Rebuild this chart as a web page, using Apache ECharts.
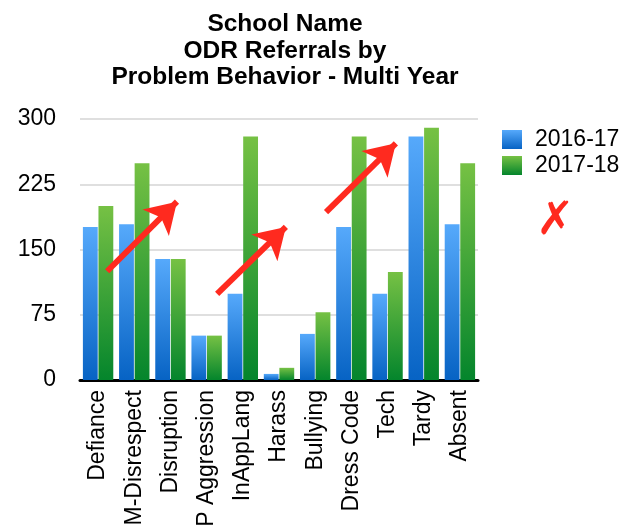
<!DOCTYPE html>
<html>
<head>
<meta charset="utf-8">
<script src="https://cdn.jsdelivr.net/npm/echarts@6/dist/echarts.min.js"></script>
<style>
html,body{margin:0;padding:0;background:#fff;}
#chart{width:638px;height:531px;}
</style>
</head>
<body>
<div id="chart"></div>
<script>
const categories = ['Defiance','M-Disrespect','Disruption','P Aggression','InAppLang','Harass','Bullying','Dress Code','Tech','Tardy','Absent'];
const seriesNames = ['2016-17','2017-18'];
const values1617 = [176, 179, 139, 51, 99, 7, 53, 176, 99, 280, 179];
const values1718 = [200, 249, 139, 51, 280, 14, 78, 280, 124, 290, 249];
const yTicks = [0, 75, 150, 225, 300];
// annotation arrows in data space: [categoryPosition, value] start -> end
const arrows = [
  [[0.75, 125], [2.68, 205]],
  [[3.79, 99], [5.69, 176]],
  [[6.80, 193], [8.73, 272]]
];

const FONT = 'Liberation Sans';
const chart = echarts.init(document.getElementById('chart'));
function grad(top, bottom){
  return new echarts.graphic.LinearGradient(0,0,0,1,[{offset:0,color:top},{offset:1,color:bottom}]);
}
const blue = grad('#56a9fb', '#0763c4');
const green = grad('#76c144', '#04852c');

chart.setOption({
  animation: false,
  title: {
    text: 'School Name\nODR Referrals by\nProblem Behavior - Multi Year',
    left: 280, top: 6, textAlign: 'center',
    textStyle: {fontFamily: FONT, fontWeight: 'bold', fontSize: 24.5, lineHeight: 26.5, color: '#000'}
  },
  legend: {
    orient: 'vertical', left: 497, top: 123, itemWidth: 20, itemHeight: 19, itemGap: 3,
    icon: 'rect',
    textStyle: {fontFamily: FONT, fontSize: 23, color: '#000', padding: [0,0,0,8]},
    data: seriesNames
  },
  grid: {left: 80, right: 160, top: 119, bottom: 151, containLabel: false},
  xAxis: [{
    type: 'category', data: categories,
    axisLine: {lineStyle: {color: '#000', width: 3}},
    axisTick: {show: false},
    axisLabel: {rotate: 90, interval: 0, fontFamily: FONT, fontSize: 23, color: '#000', margin: 10}
  }, {
    type: 'value', min: 0, max: 11, show: false
  }],
  yAxis: {
    type: 'value', min: 0, max: 300, interval: 75,
    axisLine: {show: false}, axisTick: {show: false},
    splitLine: {lineStyle: {color: '#d4d4d4', width: 1.5}},
    axisLabel: {fontFamily: FONT, fontSize: 23, color: '#000', margin: 24,
      formatter: v => yTicks.includes(v) ? String(v) : ''}
  },
  series: [
    {name: seriesNames[0], type: 'bar', data: values1617, barGap: '5%', barCategoryGap: '16%',
      itemStyle: {color: blue}},
    {name: seriesNames[1], type: 'bar', data: values1718, barGap: '5%', barCategoryGap: '16%',
      itemStyle: {color: green}},
    {type: 'line', xAxisIndex: 1, data: [], silent: true,
      markLine: {
        silent: true, animation: false,
        symbol: ['none', 'arrow'], symbolSize: [28, 30],
        label: {show: false},
        lineStyle: {color: '#ff2a1f', width: 6, type: 'solid'},
        data: arrows.map(a => [{coord: a[0]}, {coord: a[1]}])
      }}
  ],
  graphic: [{
    type: 'text', left: 536, top: 199,
    style: {text: '\u2717', fontFamily: 'DejaVu Sans', fontSize: 46, fontWeight: 'bold', fill: '#ff2a1f'}
  }]
});
</script>
</body>
</html>
